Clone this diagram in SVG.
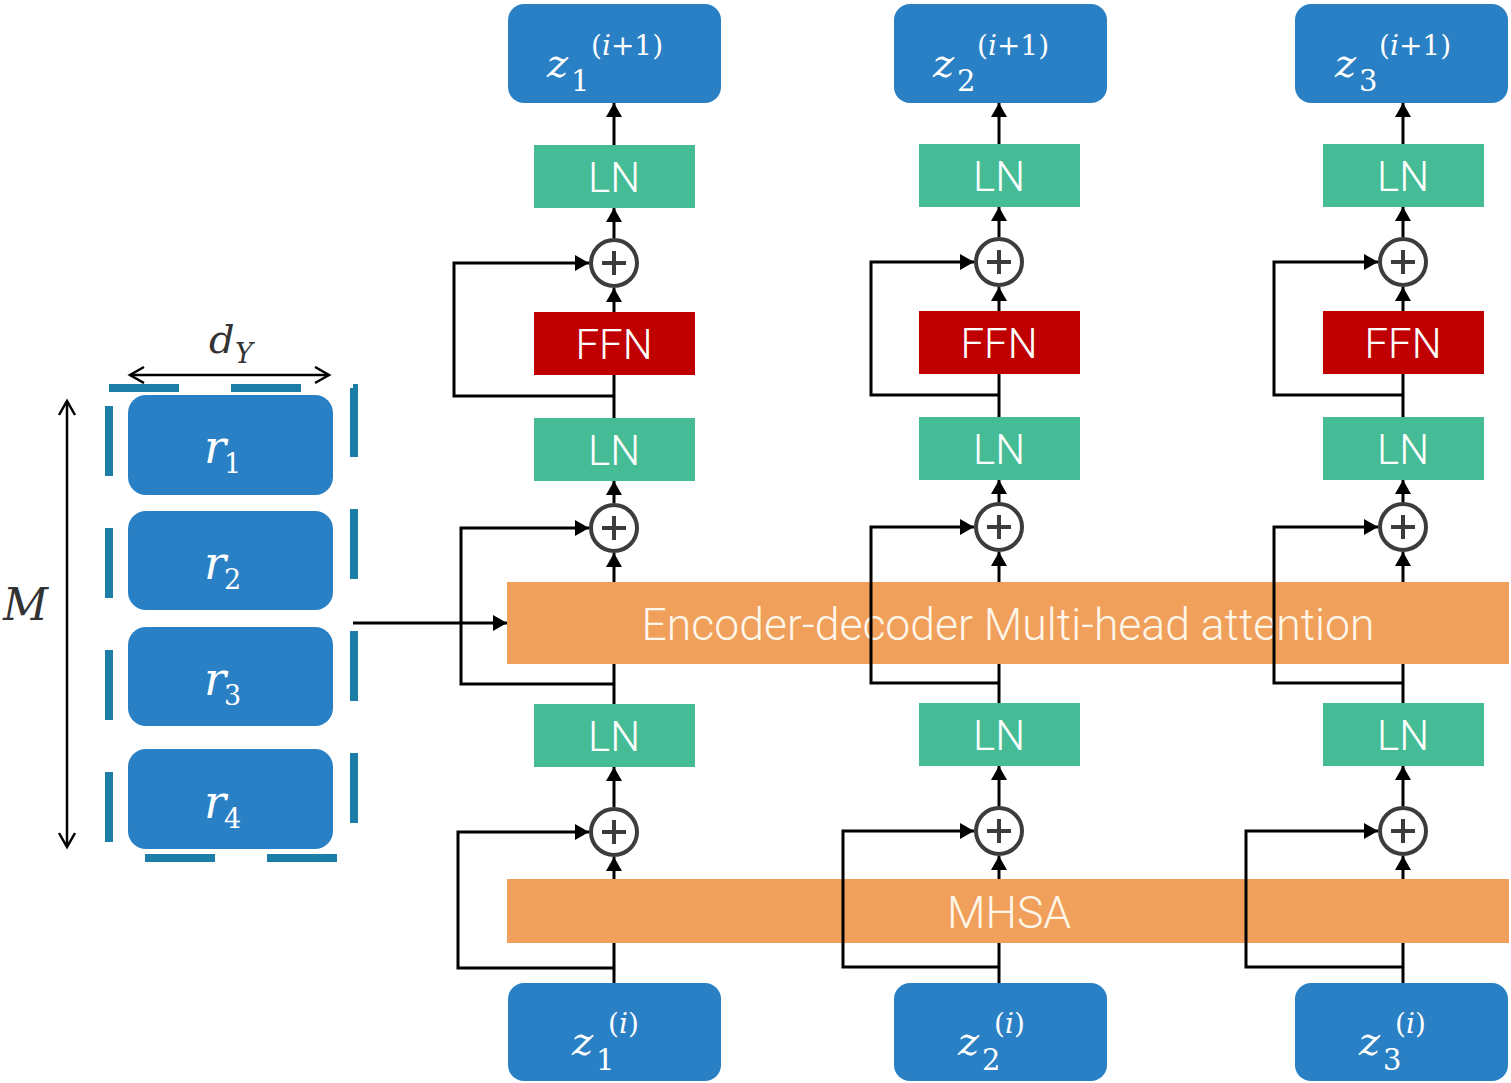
<svg xmlns="http://www.w3.org/2000/svg" width="1511" height="1083" viewBox="0 0 1511 1083">
<style>
.zb{fill:#2a80c5}
.ln{fill:#45bc96}
.ffn{fill:#c00000}
.or{fill:#f0a05a}
.lbl{font-family:Roboto,"Liberation Sans",sans-serif;font-weight:300;font-size:42px;fill:#ffffff;text-anchor:middle}
.olbl{font-family:Roboto,"Liberation Sans",sans-serif;font-weight:300;font-size:44.5px;fill:#fff6ea;text-anchor:middle}
.m{font-family:"DejaVu Serif","Liberation Serif",serif;fill:#ffffff}
.mi{font-style:italic}
.dk{fill:#333333}
.plus circle{fill:#ffffff;stroke:#3c3c3c;stroke-width:4}
.plus path{stroke:#3c3c3c;stroke-width:4;fill:none}
.c{fill:none;stroke:#000000;stroke-width:3}
.ca{fill:none;stroke:#000000;stroke-width:3;marker-end:url(#ah)}
.dim{fill:none;stroke:#000000;stroke-width:2.5;marker-start:url(#oh);marker-end:url(#oh)}
</style>
<defs>
<marker id="ah" markerUnits="userSpaceOnUse" markerWidth="16" markerHeight="16" refX="14" refY="8" orient="auto"><path d="M0,0 L14,8 L0,16 Z" fill="#000000"/></marker>
<marker id="oh" markerUnits="userSpaceOnUse" markerWidth="20" markerHeight="20" refX="15" refY="9" orient="auto-start-reverse"><path d="M1,1 L15,9 L1,17" fill="none" stroke="#000000" stroke-width="2.5"/></marker>
</defs>
<rect width="1511" height="1083" fill="#ffffff"/>

<!-- left memory block -->
<g id="memory-frame">
<rect x="109" y="388" width="245" height="470" fill="none" stroke="#1c7ea6" stroke-width="8" stroke-dasharray="70 52"/>
</g>
<g id="r1"><rect x="128" y="395" width="205" height="100" rx="18" class="zb"/><text class="m"><tspan class="mi" x="204" y="463" font-size="46">r</tspan><tspan x="224" y="473" font-size="27">1</tspan></text></g>
<g id="r2"><rect x="128" y="511" width="205" height="99" rx="18" class="zb"/><text class="m"><tspan class="mi" x="204" y="579" font-size="46">r</tspan><tspan x="224" y="589" font-size="27">2</tspan></text></g>
<g id="r3"><rect x="128" y="627" width="205" height="99" rx="18" class="zb"/><text class="m"><tspan class="mi" x="204" y="695" font-size="46">r</tspan><tspan x="224" y="705" font-size="27">3</tspan></text></g>
<g id="r4"><rect x="128" y="749" width="205" height="100" rx="18" class="zb"/><text class="m"><tspan class="mi" x="204" y="818" font-size="46">r</tspan><tspan x="224" y="828" font-size="27">4</tspan></text></g>
<g id="dim-dY"><path class="dim" d="M130,375 L329,375"/><text class="m dk"><tspan class="mi" x="209" y="353" font-size="40">d</tspan><tspan class="mi" x="235" y="363" font-size="27">Y</tspan></text></g>
<g id="dim-M"><path class="dim" d="M67,401 L67,847"/><text class="m dk mi" x="3" y="620" font-size="44">M</text></g>

<!-- shared blocks -->
<g id="enc-dec-attn"><rect x="507" y="582" width="1002" height="82" class="or"/><text class="olbl" x="1008" y="640">Encoder-decoder Multi-head attention</text></g>
<g id="mhsa"><rect x="507" y="879" width="1002" height="64" class="or"/><text class="olbl" x="1009" y="928">MHSA</text></g>

<!-- column 1 -->
<g id="z1-out"><rect x="508" y="4" width="213" height="99" rx="16" class="zb"/><text class="m"><tspan class="mi" x="547" y="77" font-size="40">z</tspan><tspan x="571" y="91" font-size="29">1</tspan><tspan x="591" y="55" font-size="28">(<tspan class="mi">i</tspan>+1)</tspan></text></g>
<g id="ln1-c1"><rect x="534" y="145" width="161" height="63" class="ln"/><text class="lbl" x="614" y="192">LN</text></g>
<g id="add1-c1" class="plus"><circle cx="614" cy="263" r="23"/><path d="M602,263 H626 M614,251 V275"/></g>
<g id="ffn-c1"><rect x="534" y="312" width="161" height="63" class="ffn"/><text class="lbl" x="614" y="359">FFN</text></g>
<g id="ln2-c1"><rect x="534" y="418" width="161" height="63" class="ln"/><text class="lbl" x="614" y="465">LN</text></g>
<g id="add2-c1" class="plus"><circle cx="614" cy="528" r="23"/><path d="M602,528 H626 M614,516 V540"/></g>
<g id="ln3-c1"><rect x="534" y="704" width="161" height="63" class="ln"/><text class="lbl" x="614" y="751">LN</text></g>
<g id="add3-c1" class="plus"><circle cx="614" cy="832" r="23"/><path d="M602,832 H626 M614,820 V844"/></g>
<g id="z1-in"><rect x="508" y="983" width="213" height="98" rx="16" class="zb"/><text class="m"><tspan class="mi" x="572" y="1055" font-size="40">z</tspan><tspan x="596" y="1070" font-size="29">1</tspan><tspan x="608" y="1033" font-size="28">(<tspan class="mi">i</tspan>)</tspan></text></g>

<!-- column 2 -->
<g id="z2-out"><rect x="894" y="4" width="213" height="99" rx="16" class="zb"/><text class="m"><tspan class="mi" x="933" y="77" font-size="40">z</tspan><tspan x="957" y="91" font-size="29">2</tspan><tspan x="977" y="55" font-size="28">(<tspan class="mi">i</tspan>+1)</tspan></text></g>
<g id="ln1-c2"><rect x="919" y="144" width="161" height="63" class="ln"/><text class="lbl" x="999" y="191">LN</text></g>
<g id="add1-c2" class="plus"><circle cx="999" cy="262" r="23"/><path d="M987,262 H1011 M999,250 V274"/></g>
<g id="ffn-c2"><rect x="919" y="311" width="161" height="63" class="ffn"/><text class="lbl" x="999" y="358">FFN</text></g>
<g id="ln2-c2"><rect x="919" y="417" width="161" height="63" class="ln"/><text class="lbl" x="999" y="464">LN</text></g>
<g id="add2-c2" class="plus"><circle cx="999" cy="527" r="23"/><path d="M987,527 H1011 M999,515 V539"/></g>
<g id="ln3-c2"><rect x="919" y="703" width="161" height="63" class="ln"/><text class="lbl" x="999" y="750">LN</text></g>
<g id="add3-c2" class="plus"><circle cx="999" cy="831" r="23"/><path d="M987,831 H1011 M999,819 V843"/></g>
<g id="z2-in"><rect x="894" y="983" width="213" height="98" rx="16" class="zb"/><text class="m"><tspan class="mi" x="958" y="1055" font-size="40">z</tspan><tspan x="982" y="1070" font-size="29">2</tspan><tspan x="994" y="1033" font-size="28">(<tspan class="mi">i</tspan>)</tspan></text></g>

<!-- column 3 -->
<g id="z3-out"><rect x="1295" y="4" width="213" height="99" rx="16" class="zb"/><text class="m"><tspan class="mi" x="1335" y="77" font-size="40">z</tspan><tspan x="1359" y="91" font-size="29">3</tspan><tspan x="1379" y="55" font-size="28">(<tspan class="mi">i</tspan>+1)</tspan></text></g>
<g id="ln1-c3"><rect x="1323" y="144" width="161" height="63" class="ln"/><text class="lbl" x="1403" y="191">LN</text></g>
<g id="add1-c3" class="plus"><circle cx="1403" cy="262" r="23"/><path d="M1391,262 H1415 M1403,250 V274"/></g>
<g id="ffn-c3"><rect x="1323" y="311" width="161" height="63" class="ffn"/><text class="lbl" x="1403" y="358">FFN</text></g>
<g id="ln2-c3"><rect x="1323" y="417" width="161" height="63" class="ln"/><text class="lbl" x="1403" y="464">LN</text></g>
<g id="add2-c3" class="plus"><circle cx="1403" cy="527" r="23"/><path d="M1391,527 H1415 M1403,515 V539"/></g>
<g id="ln3-c3"><rect x="1323" y="703" width="161" height="63" class="ln"/><text class="lbl" x="1403" y="750">LN</text></g>
<g id="add3-c3" class="plus"><circle cx="1403" cy="831" r="23"/><path d="M1391,831 H1415 M1403,819 V843"/></g>
<g id="z3-in"><rect x="1295" y="983" width="213" height="98" rx="16" class="zb"/><text class="m"><tspan class="mi" x="1359" y="1055" font-size="40">z</tspan><tspan x="1383" y="1070" font-size="29">3</tspan><tspan x="1395" y="1033" font-size="28">(<tspan class="mi">i</tspan>)</tspan></text></g>

<g id="connectors">
<!-- memory input -->
<path class="ca" d="M353,623 H507"/>
<!-- column 1 -->
<path class="c" d="M614,983 V943"/>
<path class="ca" d="M614,968 H458 V832 H589"/>
<path class="ca" d="M614,879 V857"/>
<path class="ca" d="M614,807 V767"/>
<path class="c" d="M614,704 V664"/>
<path class="ca" d="M614,684 H461 V528 H589"/>
<path class="ca" d="M614,582 V553"/>
<path class="ca" d="M614,503 V481"/>
<path class="c" d="M614,418 V375"/>
<path class="ca" d="M614,396 H454 V263 H589"/>
<path class="ca" d="M614,312 V288"/>
<path class="ca" d="M614,238 V208"/>
<path class="ca" d="M614,145 V103"/>
<!-- column 2 -->
<path class="c" d="M999,983 V943"/>
<path class="ca" d="M999,967 H843 V831 H974"/>
<path class="ca" d="M999,879 V856"/>
<path class="ca" d="M999,806 V766"/>
<path class="c" d="M999,703 V664"/>
<path class="ca" d="M999,683 H871 V527 H974"/>
<path class="ca" d="M999,582 V552"/>
<path class="ca" d="M999,502 V480"/>
<path class="c" d="M999,417 V374"/>
<path class="ca" d="M999,395 H871 V262 H974"/>
<path class="ca" d="M999,311 V287"/>
<path class="ca" d="M999,237 V207"/>
<path class="ca" d="M999,144 V103"/>
<!-- column 3 -->
<path class="c" d="M1403,983 V943"/>
<path class="ca" d="M1403,967 H1246 V831 H1378"/>
<path class="ca" d="M1403,879 V856"/>
<path class="ca" d="M1403,806 V766"/>
<path class="c" d="M1403,703 V664"/>
<path class="ca" d="M1403,683 H1274 V527 H1378"/>
<path class="ca" d="M1403,582 V552"/>
<path class="ca" d="M1403,502 V480"/>
<path class="c" d="M1403,417 V374"/>
<path class="ca" d="M1403,395 H1274 V262 H1378"/>
<path class="ca" d="M1403,311 V287"/>
<path class="ca" d="M1403,237 V207"/>
<path class="ca" d="M1403,144 V103"/>
</g>
</svg>
